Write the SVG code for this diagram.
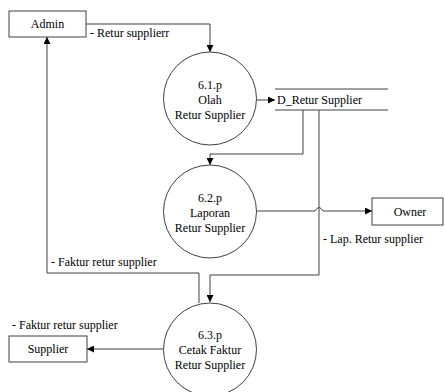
<svg xmlns="http://www.w3.org/2000/svg" width="445" height="392" viewBox="0 0 445 392" font-family="'Liberation Serif', 'Times New Roman', Times, 'DejaVu Serif', serif">
  <style>
    text { font-family: "Liberation Serif", "Times New Roman", Times, "DejaVu Serif", serif; font-size: 12px; fill: #000; }
    .c { text-anchor: middle; }
    .box { fill: #fff; stroke: #404040; stroke-width: 1; }
    .proc { fill: #fff; stroke: #404040; stroke-width: 1; }
    .flow { fill: none; stroke: #404040; stroke-width: 1; }
  </style>
  <defs>
    <marker id="arr" viewBox="0 0 8 8" refX="8" refY="4" markerWidth="7" markerHeight="7" orient="auto" markerUnits="userSpaceOnUse">
      <path d="M0,0 L8,4 L0,8 z" fill="#000"/>
    </marker>
  </defs>
  <rect width="445" height="392" fill="#fff"/>

  <g id="connectors">
    <!-- Admin to 6.1.p -->
    <path class="flow" d="M86,24 H210 V52" marker-end="url(#arr)"/>
    <!-- 6.1.p to data store -->
    <path class="flow" d="M256,100 H275" marker-end="url(#arr)"/>
    <!-- data store to 6.2.p -->
    <path class="flow" d="M303,110 V154 H210 V165" marker-end="url(#arr)"/>
    <!-- data store to 6.3.p -->
    <path class="flow" d="M319,110 V275 H210 V302" marker-end="url(#arr)"/>
    <!-- 6.2.p to Owner, hopping over the store line -->
    <path class="flow" d="M256,211 H315 Q319,204 323,211 H372" marker-end="url(#arr)"/>
    <!-- 6.3.p to Admin -->
    <path class="flow" d="M199,303 V273 H47 V37" marker-end="url(#arr)"/>
    <!-- 6.3.p to Supplier -->
    <path class="flow" d="M164,349 H87" marker-end="url(#arr)"/>
  </g>

  <g id="labels">
    <text x="90" y="37">- Retur supplierr</text>
    <text x="323" y="243">- Lap. Retur supplier</text>
    <text x="51" y="266">- Faktur retur supplier</text>
    <text x="12" y="329">- Faktur retur supplier</text>
  </g>

  <g id="admin">
    <rect class="box" x="9" y="11" width="77" height="26"/>
    <text class="c" x="47.5" y="28">Admin</text>
  </g>

  <g id="p61">
    <circle class="proc" cx="210" cy="98.5" r="46.5"/>
    <text class="c" x="210" y="89">6.1.p</text>
    <text class="c" x="210" y="104">Olah</text>
    <text class="c" x="210" y="119">Retur Supplier</text>
  </g>

  <g id="store">
    <path class="flow" d="M275,89 H388 M275,110 H388"/>
    <text x="277" y="104">D_Retur Supplier</text>
  </g>

  <g id="p62">
    <circle class="proc" cx="210" cy="211.5" r="46.5"/>
    <text class="c" x="210" y="202">6.2.p</text>
    <text class="c" x="210" y="217">Laporan</text>
    <text class="c" x="210" y="232">Retur Supplier</text>
  </g>

  <g id="owner">
    <rect class="box" x="372" y="198" width="71" height="27"/>
    <text class="c" x="410" y="216">Owner</text>
  </g>

  <g id="p63">
    <circle class="proc" cx="210" cy="349.5" r="46.5"/>
    <text class="c" x="210" y="339">6.3.p</text>
    <text class="c" x="210" y="354">Cetak Faktur</text>
    <text class="c" x="210" y="369">Retur Supplier</text>
  </g>

  <g id="supplier">
    <rect class="box" x="9" y="336" width="78" height="26"/>
    <text class="c" x="48" y="353">Supplier</text>
  </g>
</svg>
